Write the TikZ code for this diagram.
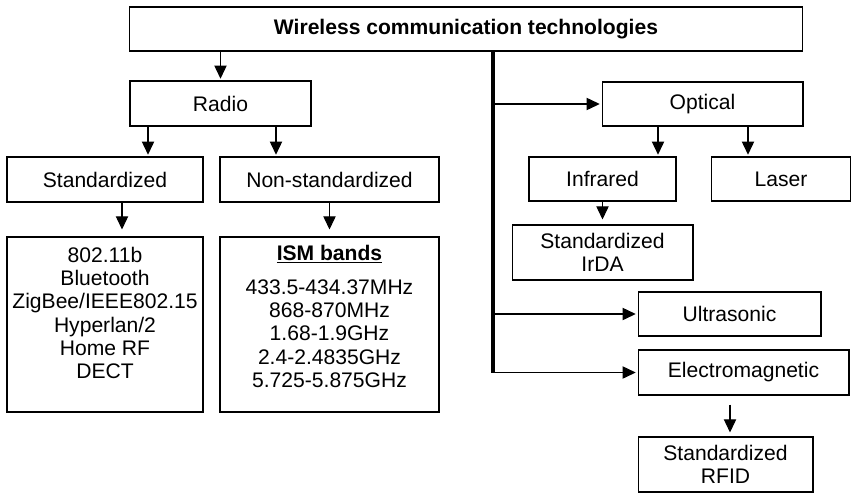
\documentclass[tikz,border=0pt]{standalone}
\usepackage{fontspec}
\setmainfont{Liberation Sans}
\usetikzlibrary{arrows.meta,calc}

\begin{document}
\begin{tikzpicture}[
    x=0.02cm, y=-0.02cm,
    box/.style={draw, line width=0.6pt, inner sep=0pt, minimum height=0.88cm, align=center, font=\fontsize{12}{13.3}\selectfont},
    list/.style={align=center, inner sep=0pt, font=\fontsize{12}{13.3}\selectfont},
    arr/.style={-{Triangle[length=7.5pt,width=7pt]}, line width=0.6pt, shorten >=1pt},
    spine/.style={line width=1.8pt}
]
\useasboundingbox (0,0) rectangle (851,494);
\node[box, minimum width=13.48cm, font=\fontsize{12}{13.3}\selectfont\bfseries] (wct) at (466,29) {Wireless communication technologies};

\node[box, minimum width=3.62cm, minimum height=0.9cm] (radio) at (220.5,103.5) {Radio};
\node[box, minimum width=3.92cm, minimum height=0.9cm] (std) at (105,179.5) {Standardized};
\node[box, minimum width=4.38cm, minimum height=0.9cm] (nonstd) at (329.5,179.5) {Non-standardized};
\node[box, minimum width=3.92cm, minimum height=3.5cm,
      label={[list, anchor=north, yshift=-0.2cm]north:{802.11b\\Bluetooth\\ZigBee/IEEE802.15\\Hyperlan/2\\Home RF\\DECT}}] (stdlist) at (105,324.5) {};
\node[box, minimum width=4.38cm, minimum height=3.5cm,
      label={[list, anchor=north, yshift=-0.16cm]north:{\underline{\textbf{ISM bands}}\\[6pt]433.5-434.37MHz\\868-870MHz\\1.68-1.9GHz\\2.4-2.4835GHz\\5.725-5.875GHz}}] (ism) at (329.5,324.5) {};

\node[box, minimum width=4.02cm] (optical) at (702.5,104) {Optical};
\node[box, minimum width=2.94cm] (infrared) at (602.5,179) {Infrared};
\node[box, minimum width=2.78cm] (laser) at (781,179) {Laser};
\node[box, minimum width=3.62cm, minimum height=1.1cm] (irda) at (602.5,252.5) {Standardized\\IrDA};
\node[box, minimum width=3.66cm] (ultra) at (729.5,314) {Ultrasonic};
\node[box, minimum width=4.22cm, minimum height=0.9cm] (em) at (743.5,372.5) {Electromagnetic};
\node[box, minimum width=3.5cm, minimum height=1.1cm] (rfid) at (725.5,464.5) {Standardized\\RFID};

\coordinate (bus) at (493,372.5);

\draw[arr] (radio.north |- wct.south) -- (radio.north);
\draw[arr] ([xshift=-1.45cm]radio.south) -- ([xshift=-1.45cm]radio.south |- std.north);
\draw[arr] ([xshift=1.11cm]radio.south) -- ([xshift=1.11cm]radio.south |- nonstd.north);
\draw[arr, shorten >=0.14cm] ([xshift=0.34cm]std.south) -- ([xshift=0.34cm]std.south |- stdlist.north);
\draw[arr, shorten >=0.14cm] (nonstd.south) -- (ism.north);

\draw[spine] (bus |- wct.south) -- (bus);
\draw[arr] (bus |- optical.west) -- (optical.west);
\draw[arr] (bus |- ultra.west) -- (ultra.west);
\draw[arr] (bus) -- (em.west);

\draw[arr] ([xshift=-0.89cm]optical.south) -- ([xshift=-0.89cm]optical.south |- infrared.north);
\draw[arr] ([xshift=0.91cm]optical.south) -- ([xshift=0.91cm]optical.south |- laser.north);
\draw[arr, shorten >=0.1cm] (infrared.south) -- (irda.north);
\draw[arr, shorten <=0.18cm, shorten >=0.08cm] ([xshift=-0.27cm]em.south) -- ([xshift=-0.27cm]em.south |- rfid.north);
\end{tikzpicture}
\end{document}
